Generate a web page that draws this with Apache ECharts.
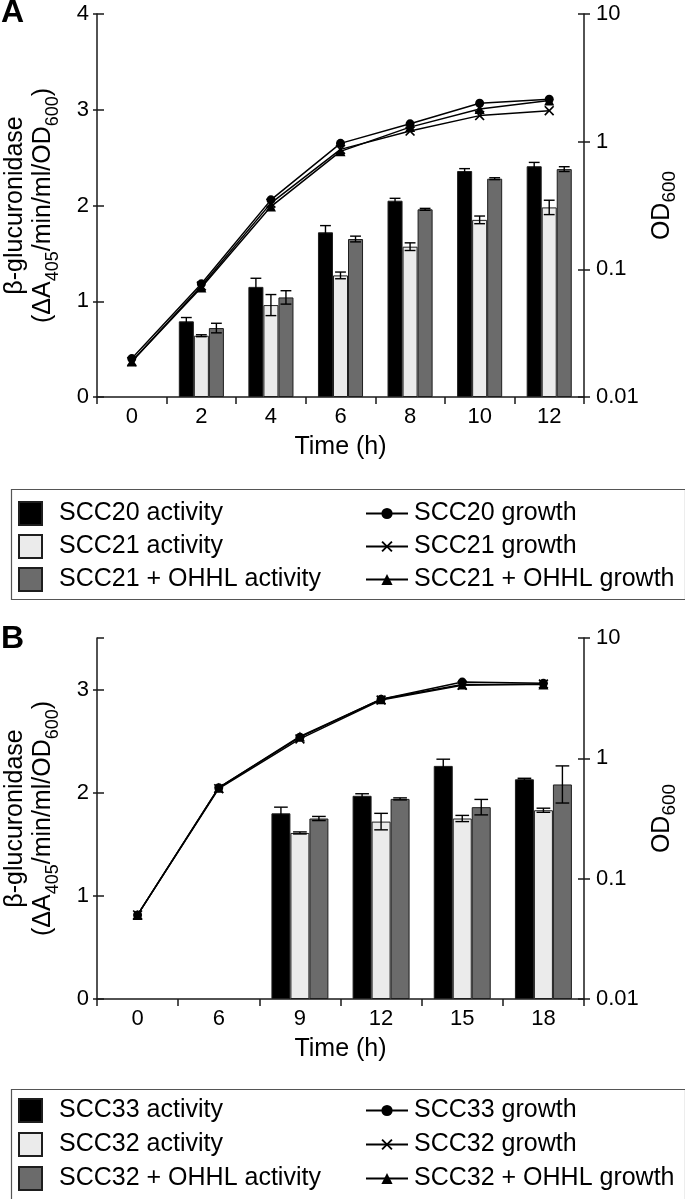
<!DOCTYPE html>
<html>
<head>
<meta charset="utf-8">
<script src="https://cdn.jsdelivr.net/npm/echarts@6/dist/echarts.min.js"></script>
<style>
html,body{margin:0;padding:0;background:#fff;}
#c{width:685px;height:1199px;}
</style>
</head>
<body>
<div id="c"></div>
<script>
// ---------- Panel A data ----------
const catsA = ['0', '2', '4', '6', '8', '10', '12'];
const scc20Act = ['-', 0.79, 1.15, 1.72, 2.05, 2.36, 2.41];
const scc20Err = [null, 0.04, 0.09, 0.07, 0.025, 0.025, 0.04];
const scc21Act = ['-', 0.64, 0.96, 1.27, 1.57, 1.85, 1.98];
const scc21Err = [null, 0.01, 0.11, 0.035, 0.04, 0.04, 0.075];
const scc21oAct = ['-', 0.72, 1.04, 1.65, 1.96, 2.28, 2.38];
const scc21oErr = [null, 0.05, 0.07, 0.03, 0.01, 0.01, 0.025];
const scc20Gr = [0.020, 0.077, 0.35, 0.97, 1.38, 2.0, 2.15];
const scc21Gr = [0.019, 0.074, 0.33, 0.87, 1.21, 1.6, 1.75];
const scc21oGr = [0.019, 0.072, 0.31, 0.84, 1.30, 1.8, 2.1];

// ---------- Panel B data ----------
const catsB = ['0', '6', '9', '12', '15', '18'];
const scc33Act = ['-', '-', 1.80, 1.97, 2.26, 2.13];
const scc33Err = [null, null, 0.06, 0.02, 0.065, 0.01];
const scc32Act = ['-', '-', 1.61, 1.72, 1.75, 1.83];
const scc32Err = [null, null, 0.01, 0.08, 0.03, 0.02];
const scc32oAct = ['-', '-', 1.75, 1.94, 1.86, 2.08];
const scc32oErr = [null, null, 0.02, 0.01, 0.075, 0.18];
const scc33Gr = [0.05, 0.57, 1.5, 3.1, 4.3, 4.2];
const scc32Gr = [0.05, 0.56, 1.45, 3.05, 4.05, 4.15];
const scc32oGr = [0.05, 0.57, 1.52, 3.1, 4.1, 4.1];

// ---------- Axis ranges / tick labels ----------
const leftMaxA = 4, leftMaxB = 3.5, leftInterval = 1;
const odMin = 0.01, odMax = 10;

const FONT = 'Liberation Sans, Arial, Helvetica, sans-serif';
const BLACK = '#000000', LIGHT = '#ebebeb', DARK = '#6b6b6b';
const AX = '#1a1a1a';
const X_SYMBOL = 'path://M0,1.2L1.2,0L5,3.8L8.8,0L10,1.2L6.2,5L10,8.8L8.8,10L5,6.2L1.2,10L0,8.8L3.8,5Z';

const chart = echarts.init(document.getElementById('c'), null, {renderer: 'canvas'});

function catAxis(grid, cats, inside) {
  return {
    type: 'category', gridIndex: grid, data: cats, boundaryGap: true,
    axisLine: {show: !inside, lineStyle: {color: AX, width: 1.5}},
    axisTick: {show: true, inside: inside, length: inside ? 7 : 6, lineStyle: {color: AX, width: 1.5}},
    axisLabel: {show: !inside, color: '#000', fontSize: 22, fontFamily: FONT, margin: 9},
    name: inside ? '' : 'Time (h)', nameLocation: 'middle', nameGap: 38,
    nameTextStyle: {color: '#000', fontSize: 25, fontFamily: FONT},
    splitLine: {show: false}
  };
}
function leftAxis(grid, max, inside) {
  return {
    type: 'value', gridIndex: grid, position: 'left', min: 0, max: max, interval: leftInterval,
    axisLine: {show: !inside, lineStyle: {color: AX, width: 1.5}},
    axisTick: {show: true, inside: inside, length: inside ? 7 : 4, lineStyle: {color: AX, width: 1.5}},
    axisLabel: {show: !inside, color: '#000', fontSize: 22, fontFamily: FONT, margin: 8, showMaxLabel: max === leftMaxA},
    splitLine: {show: false},
    name: inside ? '' : '{t|β-glucuronidase}\n{t|(ΔA}{s|405}{t|/min/ml/OD}{s|600}{t|)}',
    nameLocation: 'middle', nameGap: 40, nameRotate: 90,
    nameTextStyle: {
      color: '#000', fontFamily: FONT, fontSize: 25, lineHeight: 28,
      rich: {
        t: {fontSize: 25, fontFamily: FONT, color: '#000', lineHeight: 28},
        s: {fontSize: 18, fontFamily: FONT, color: '#000', lineHeight: 28, verticalAlign: 'bottom', padding: [0, 0, -5, 0]}
      }
    }
  };
}
function rightAxis(grid, inside) {
  return {
    type: 'log', logBase: 10, gridIndex: grid, position: 'right', min: odMin, max: odMax,
    axisLine: {show: !inside, lineStyle: {color: AX, width: 1.5}},
    axisTick: {show: true, inside: inside, length: 6, lineStyle: {color: AX, width: 1.5}},
    axisLabel: {show: !inside, color: '#000', fontSize: 22, fontFamily: FONT, margin: 12,
      formatter: v => String(+Number(v).toPrecision(3))},
    splitLine: {show: false}, minorTick: {show: false},
    name: inside ? '' : '{t|OD}{s|600}', nameLocation: 'middle', nameGap: 62, nameRotate: 90,
    nameTextStyle: {
      color: '#000', fontFamily: FONT, fontSize: 25,
      rich: {
        t: {fontSize: 25, fontFamily: FONT, color: '#000', lineHeight: 26},
        s: {fontSize: 19, fontFamily: FONT, color: '#000', lineHeight: 26, verticalAlign: 'bottom', padding: [0, 0, -4, 0]}
      }
    }
  };
}

function barSeries(name, vals, color, xi, yi, width) {
  return {
    name: name, type: 'bar', xAxisIndex: xi, yAxisIndex: yi, data: vals,
    barWidth: width, barGap: '0%', z: 2,
    itemStyle: {color: color, borderColor: '#1e1e1e', borderWidth: 1}
  };
}
function errSeries(vals, errs, k, ratio, xi, yi) {
  const data = [];
  vals.forEach((v, i) => { if (v !== '-' && errs[i] != null) data.push([i, v, errs[i]]); });
  return {
    type: 'custom', xAxisIndex: xi, yAxisIndex: yi, z: 4, silent: true, data: data,
    encode: {x: 0, y: 1},
    renderItem: function (params, api) {
      const i = api.value(0), v = api.value(1), e = api.value(2);
      const band = api.size([1, 0])[0];
      const bw = band * ratio;
      const p0 = api.coord([i, v + e]);
      const p1 = api.coord([i, v - e]);
      const x = p0[0] + (k - 1) * bw;
      const cap = bw * 0.36;
      const st = {stroke: '#000', lineWidth: 1.4};
      return {type: 'group', children: [
        {type: 'line', shape: {x1: x, y1: p0[1], x2: x, y2: p1[1]}, style: st},
        {type: 'line', shape: {x1: x - cap, y1: p0[1], x2: x + cap, y2: p0[1]}, style: st},
        {type: 'line', shape: {x1: x - cap, y1: p1[1], x2: x + cap, y2: p1[1]}, style: st}
      ]};
    }
  };
}
function lineSeries(name, vals, symbol, size, xi, yi) {
  return {
    name: name, type: 'line', xAxisIndex: xi, yAxisIndex: yi, data: vals,
    symbol: symbol, symbolSize: size, showSymbol: true, z: 6,
    lineStyle: {color: '#000', width: 1.5},
    itemStyle: {color: '#000', borderColor: '#000', borderWidth: 0}
  };
}

const ratioA = 0.216, ratioB = 0.234;

function legends(top, gap, barNames, lineNames) {
  return [
    {
      data: barNames, orient: 'vertical', left: 18, top: top, padding: 0, height: 110,
      itemWidth: 23, itemHeight: 23, itemGap: gap,
      icon: 'rect', selectedMode: false,
      textStyle: {color: '#000', fontSize: 25, fontFamily: FONT, padding: [0, 0, 0, 12]}
    },
    {
      data: lineNames, orient: 'vertical', left: 365, top: top, padding: 0, height: 110,
      itemWidth: 42, itemHeight: 14, itemGap: gap,
      selectedMode: false,
      textStyle: {color: '#000', fontSize: 25, fontFamily: FONT, padding: [0, 0, 0, 1]}
    }
  ];
}

const option = {
  backgroundColor: '#fff',
  animation: false,
  title: [
    {text: 'A', left: 1, top: -3, padding: 0, textStyle: {fontSize: 32, fontWeight: 'bold', fontFamily: FONT, color: '#000'}},
    {text: 'B', left: 1, top: 623, padding: 0, textStyle: {fontSize: 32, fontWeight: 'bold', fontFamily: FONT, color: '#000'}}
  ],
  grid: [
    {left: 97, top: 14, width: 487, height: 383, containLabel: false, outerBoundsMode: 'none'},
    {left: 97, top: 638, width: 487, height: 361, containLabel: false, outerBoundsMode: 'none'}
  ],
  xAxis: [
    catAxis(0, catsA, false), catAxis(0, catsA, true),
    catAxis(1, catsB, false), catAxis(1, catsB, true)
  ],
  yAxis: [
    leftAxis(0, leftMaxA, false), rightAxis(0, false), leftAxis(0, leftMaxA, true), rightAxis(0, true),
    leftAxis(1, leftMaxB, false), rightAxis(1, false), leftAxis(1, leftMaxB, true), rightAxis(1, true)
  ],
  legend: [
    ...legends(501, 8, ['SCC20 activity', 'SCC21 activity', 'SCC21 + OHHL activity'],
                       ['SCC20 growth', 'SCC21 growth', 'SCC21 + OHHL growth']),
    ...legends(1098, 9, ['SCC33 activity', 'SCC32 activity', 'SCC32 + OHHL activity'],
                        ['SCC33 growth', 'SCC32 growth', 'SCC32 + OHHL growth'])
  ],
  graphic: [
    {type: 'rect', left: 9, top: 487, shape: {width: 674, height: 110}, style: {fill: 'none', stroke: '#555', lineWidth: 1.2}, z: -1},
    {type: 'rect', left: 9, top: 1087, shape: {width: 674, height: 110}, style: {fill: 'none', stroke: '#555', lineWidth: 1.2}, z: -1}
  ],
  series: [
    barSeries('SCC20 activity', scc20Act, BLACK, 0, 0, '21.6%'),
    barSeries('SCC21 activity', scc21Act, LIGHT, 0, 0, '21.6%'),
    barSeries('SCC21 + OHHL activity', scc21oAct, DARK, 0, 0, '21.6%'),
    errSeries(scc20Act, scc20Err, 0, ratioA, 0, 0),
    errSeries(scc21Act, scc21Err, 1, ratioA, 0, 0),
    errSeries(scc21oAct, scc21oErr, 2, ratioA, 0, 0),
    lineSeries('SCC20 growth', scc20Gr, 'circle', 9, 0, 1),
    lineSeries('SCC21 growth', scc21Gr, X_SYMBOL, 10, 0, 1),
    lineSeries('SCC21 + OHHL growth', scc21oGr, 'triangle', 10, 0, 1),

    barSeries('SCC33 activity', scc33Act, BLACK, 2, 4, '23.4%'),
    barSeries('SCC32 activity', scc32Act, LIGHT, 2, 4, '23.4%'),
    barSeries('SCC32 + OHHL activity', scc32oAct, DARK, 2, 4, '23.4%'),
    errSeries(scc33Act, scc33Err, 0, ratioB, 2, 4),
    errSeries(scc32Act, scc32Err, 1, ratioB, 2, 4),
    errSeries(scc32oAct, scc32oErr, 2, ratioB, 2, 4),
    lineSeries('SCC33 growth', scc33Gr, 'circle', 9, 2, 5),
    lineSeries('SCC32 growth', scc32Gr, X_SYMBOL, 10, 2, 5),
    lineSeries('SCC32 + OHHL growth', scc32oGr, 'triangle', 10, 2, 5)
  ]
};
chart.setOption(option);
</script>
</body>
</html>
